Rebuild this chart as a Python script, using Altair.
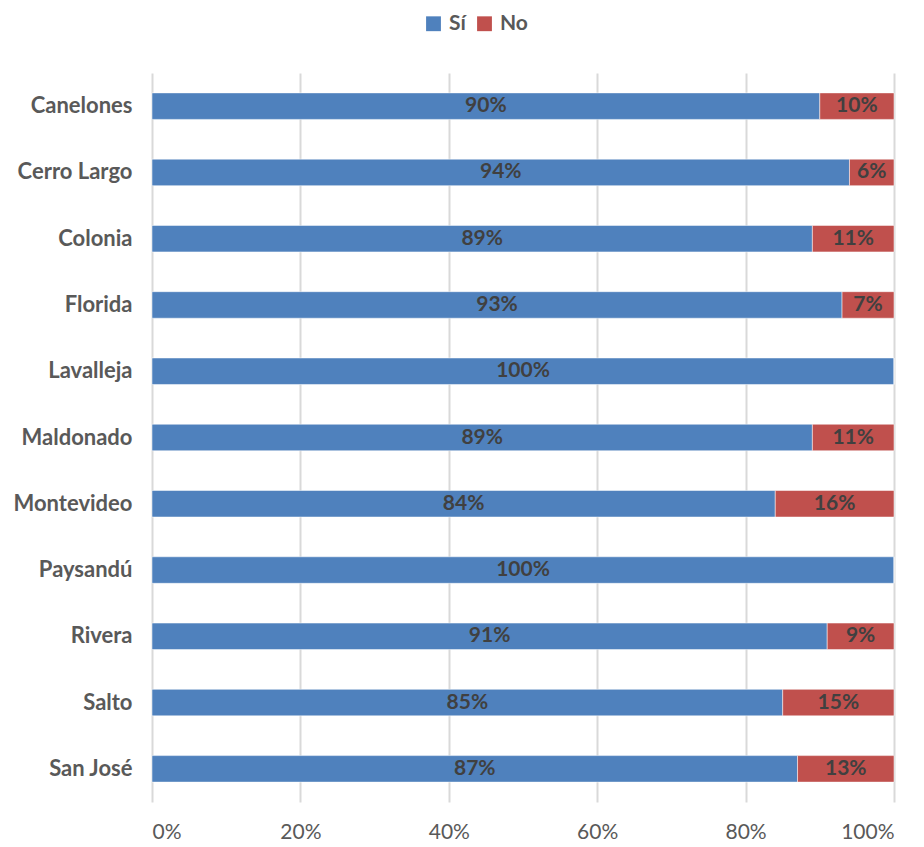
import altair as alt
import pandas as pd

departamentos = ["Canelones", "Cerro Largo", "Colonia", "Florida", "Lavalleja", "Maldonado",
                 "Montevideo", "Paysandú", "Rivera", "Salto", "San José"]
si = [90, 94, 89, 93, 100, 89, 84, 100, 91, 85, 87]
no = [10, 6, 11, 7, 0, 11, 16, 0, 9, 15, 13]
series = ["Sí", "No"]
colors = ["#4F81BD", "#C0504D"]

rows = []
for d, s, n in zip(departamentos, si, no):
    rows.append({"dep": d, "serie": "Sí", "ord": 0, "val": s / 100})
    rows.append({"dep": d, "serie": "No", "ord": 1, "val": n / 100})
df = pd.DataFrame(rows)

FONT = "Lato"

base = alt.Chart(df).transform_stack(
    stack="val", groupby=["dep"], as_=["x0", "x1"], sort=[alt.SortField("ord", order="ascending")]
).transform_calculate(
    mid="(datum.x0 + datum.x1) / 2"
)

y_enc = alt.Y("dep:N", sort=departamentos, title=None,
              scale=alt.Scale(paddingInner=0.6, paddingOuter=0.3),
              axis=alt.Axis(domain=False, ticks=False, grid=False, labelFontSize=22,
                            labelFontWeight="bold", labelColor="#595959", labelPadding=20,
                            labelFont=FONT))

bars = base.mark_bar(stroke="white", strokeWidth=0.5).encode(
    x=alt.X("x0:Q", title=None, scale=alt.Scale(domain=[0, 1], nice=False),
            axis=alt.Axis(format=".0%", values=[0, 0.2, 0.4, 0.6, 0.8, 1.0], domain=False,
                          ticks=False, grid=True, gridColor="#D9D9D9", gridWidth=2,
                          labelFontSize=21, labelColor="#595959", labelPadding=19,
                          labelFont=FONT)),
    x2="x1:Q",
    y=y_enc,
    color=alt.Color("serie:N", scale=alt.Scale(domain=series, range=colors),
                    legend=alt.Legend(title=None, orient="none", direction="horizontal",
                                      legendX=271, legendY=-60, symbolType="square",
                                      symbolSize=220, symbolStrokeWidth=0,
                                      labelFontSize=21, labelFontWeight="bold",
                                      labelColor="#595959", labelFont=FONT,
                                      columnPadding=8, labelOffset=5)),
)

texts = base.transform_filter("datum.val > 0").mark_text(
    fontSize=21, fontWeight="bold", color="#404040", font=FONT, baseline="middle"
).encode(
    x=alt.X("mid:Q"),
    y=alt.Y("dep:N", sort=departamentos),
    text=alt.Text("val:Q", format=".0%"),
)

chart = alt.layer(bars, texts).properties(width=742, height=729).configure_view(stroke=None)

chart.save("out.html", embed_options={"renderer": "svg", "actions": False})
